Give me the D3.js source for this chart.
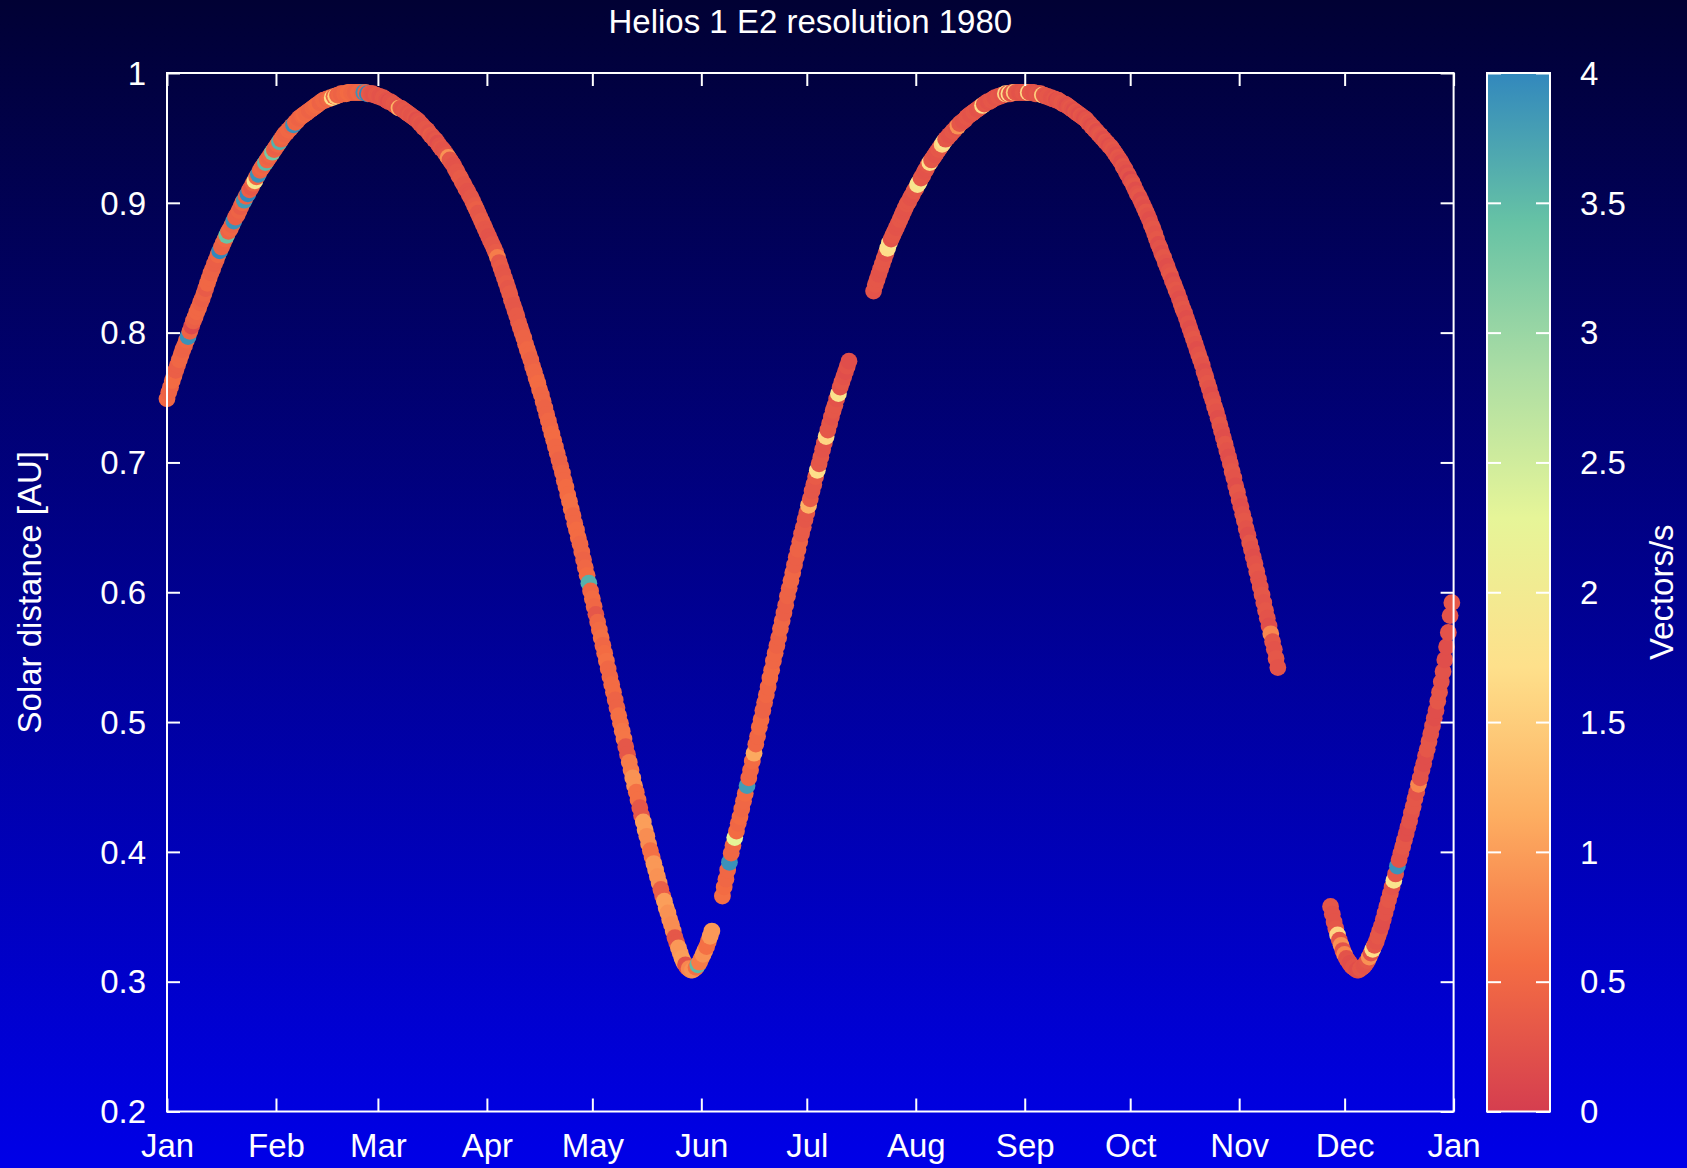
<!DOCTYPE html>
<html>
<head>
<meta charset="utf-8">
<script src="https://cdn.jsdelivr.net/npm/d3@7"></script>
<style>
html, body { margin: 0; padding: 0; background: #000; }
svg { display: block; }
text { font-family: "Liberation Sans", Arial, Helvetica, sans-serif; fill: #fff; }
</style>
</head>
<body>
<svg id="chart" width="1687" height="1168"></svg>
<script>
// ---------------- data ----------------
const chartTitle = "Helios 1 E2 resolution 1980";
const yAxisTitle = "Solar distance [AU]";
const colorbarTitle = "Vectors/s";
const monthLabels = ["Jan","Feb","Mar","Apr","May","Jun","Jul","Aug","Sep","Oct","Nov","Dec","Jan"];
const yTicks = [0.2, 0.3, 0.4, 0.5, 0.6, 0.7, 0.8, 0.9, 1];
const yTickLabels = ["0.2","0.3","0.4","0.5","0.6","0.7","0.8","0.9","1"];
const cbTicks = [0, 0.5, 1, 1.5, 2, 2.5, 3, 3.5, 4];
const cbTickLabels = ["0","0.5","1","1.5","2","2.5","3","3.5","4"];
const paletteColors = ["#D53E4F","#F46D43","#FDAE61","#FEE08B","#E6F598","#ABDDA4","#66C2A5","#3288BD"];

// samples every 12 hours; each segment starts at 00:00 of the given day of year (1980)
const sampleStepHours = 12;

const seg1StartDay = 1;
const seg1Distance = [
0.749,0.754,0.758,0.763,0.767,0.771,0.775,0.779,0.783,0.787,0.790,0.794,0.797,0.801,0.805,0.809,0.812,0.816,0.819,0.823,
0.826,0.830,0.834,0.838,0.842,0.846,0.849,0.853,0.856,0.860,0.863,0.866,0.869,0.872,0.875,0.878,0.880,0.883,0.886,0.889,
0.891,0.894,0.897,0.900,0.902,0.905,0.907,0.910,0.912,0.915,0.917,0.920,0.922,0.925,0.927,0.929,0.931,0.933,0.935,0.937,
0.939,0.941,0.943,0.945,0.947,0.949,0.951,0.953,0.954,0.956,0.957,0.959,0.960,0.962,0.963,0.965,0.966,0.967,0.968,0.969,
0.970,0.971,0.972,0.973,0.974,0.975,0.976,0.977,0.978,0.979,0.979,0.980,0.980,0.981,0.981,0.982,0.982,0.983,0.983,0.984,
0.984,0.984,0.984,0.985,0.985,0.985,0.985,0.985,0.985,0.985,0.985,0.985,0.985,0.985,0.984,0.984,0.984,0.984,0.983,0.983,
0.982,0.982,0.981,0.981,0.980,0.979,0.978,0.978,0.977,0.976,0.975,0.974,0.973,0.973,0.972,0.971,0.970,0.969,0.968,0.967,
0.966,0.965,0.964,0.963,0.961,0.960,0.958,0.957,0.956,0.954,0.952,0.951,0.949,0.948,0.946,0.944,0.942,0.941,0.939,0.937,
0.935,0.933,0.931,0.929,0.926,0.924,0.921,0.919,0.916,0.914,0.911,0.909,0.906,0.904,0.901,0.898,0.895,0.892,0.889,0.886,
0.883,0.880,0.877,0.874,0.871,0.868,0.865,0.862,0.858,0.854,0.850,0.846,0.842,0.838,0.834,0.830,0.825,0.821,0.817,0.813,
0.808,0.804,0.800,0.796,0.791,0.787,0.783,0.779,0.774,0.770,0.765,0.761,0.756,0.752,0.747,0.742,0.737,0.732,0.727,0.722,
0.717,0.712,0.707,0.702,0.697,0.692,0.686,0.681,0.675,0.670,0.664,0.659,0.653,0.648,0.642,0.637,0.631,0.625,0.619,0.613,
0.607,0.601,0.595,0.589,0.583,0.577,0.571,0.565,0.559,0.553,0.547,0.541,0.535,0.529,0.523,0.517,0.511,0.505,0.499,0.493,
0.487,0.481,0.475,0.469,0.463,0.457,0.451,0.446,0.440,0.434,0.428,0.423,0.417,0.412,0.406,0.401,0.396,0.391,0.386,0.381,
0.376,0.371,0.366,0.362,0.357,0.353,0.348,0.344,0.339,0.334,0.330,0.326,0.322,0.318,0.315,0.313,0.311,0.310,0.309,0.309,
0.310,0.311,0.313,0.315,0.318,0.321,0.324,0.327,0.331,0.335,0.339];
const seg1Vectors = [
0.5,0.45,0.45,0.55,0.55,0.4,0.4,0.5,0.5,0.45,0.45,0.5,3.9,0.45,0.15,0.4,0.45,0.5,0.5,0.45,
0.4,0.45,0.35,0.5,0.5,0.45,0.45,0.4,0.4,0.5,4.0,0.45,0.45,0.5,3.4,0.45,0.5,0.45,3.9,0.4,
0.4,0.45,0.35,0.5,3.8,0.45,4.0,0.4,0.3,0.45,1.9,0.5,3.9,0.45,0.5,0.45,3.5,0.5,0.45,0.5,
3.3,0.45,0.4,0.5,3.6,0.45,0.5,0.45,0.45,0.5,0.5,0.45,3.9,0.5,0.5,0.45,0.45,0.5,0.55,0.5,
0.5,0.45,0.45,0.5,0.5,0.55,0.55,0.45,0.45,0.5,0.5,0.45,0.5,0.55,1.7,0.5,1.5,0.45,0.5,0.45,
0.45,0.5,0.5,0.55,0.55,0.5,0.5,0.45,0.45,0.5,0.5,0.45,3.9,0.45,4.0,0.35,0.3,0.25,0.25,0.3,
0.3,0.25,0.25,0.3,0.3,0.25,0.2,0.25,0.25,0.3,0.3,0.25,1.2,0.3,0.25,0.3,0.3,0.25,0.3,0.25,
0.25,0.3,0.2,0.25,0.3,0.25,0.25,0.3,0.3,0.25,0.35,0.3,0.25,0.3,0.2,0.25,0.3,0.25,0.25,0.3,
0.9,0.3,0.3,0.25,0.25,0.3,0.3,0.35,0.35,0.3,0.3,0.25,0.25,0.3,0.3,0.35,0.4,0.3,0.3,0.35,
0.35,0.3,0.3,0.25,0.25,0.3,0.3,0.35,0.7,0.3,0.35,0.3,0.3,0.35,0.3,0.35,0.35,0.3,0.3,0.35,
0.35,0.4,0.4,0.45,0.45,0.5,0.5,0.45,0.45,0.5,0.5,0.55,0.55,0.5,0.5,0.45,0.45,0.5,0.5,0.55,
0.55,0.5,0.5,0.45,0.45,0.5,0.5,0.55,0.55,0.6,0.6,0.5,0.5,0.55,0.55,0.5,0.5,0.45,0.5,0.55,
3.6,0.5,0.55,0.5,0.3,0.5,0.55,0.6,0.5,0.55,0.6,0.5,0.5,0.55,0.55,0.45,0.45,0.6,0.6,0.65,
0.65,0.3,0.3,0.7,0.7,0.9,0.9,0.6,0.6,0.3,0.3,1.0,1.0,0.85,0.85,0.6,0.6,0.95,0.95,0.9,
0.9,0.4,0.4,1.0,1.0,0.9,0.9,0.85,0.85,0.3,0.3,0.95,0.95,1.0,1.0,0.25,0.25,0.8,0.8,0.9,
0.9,0.6,3.5,0.7,0.7,0.9,0.9,0.6,0.6,0.95,0.95];

const seg2StartDay = 159;
const seg2Distance = [
0.366,0.373,0.379,0.386,0.392,0.399,0.405,0.411,0.416,0.422,0.427,0.433,0.439,0.445,0.451,0.457,0.463,0.470,0.476,0.483,
0.489,0.496,0.502,0.509,0.515,0.521,0.527,0.534,0.540,0.547,0.553,0.559,0.565,0.572,0.578,0.584,0.590,0.597,0.603,0.609,
0.615,0.621,0.627,0.633,0.639,0.645,0.650,0.656,0.661,0.667,0.672,0.678,0.683,0.689,0.694,0.699,0.704,0.710,0.715,0.720,
0.725,0.730,0.735,0.740,0.744,0.749,0.753,0.758,0.762,0.766,0.770,0.774,0.778];
const seg2Vectors = [
0.6,0.55,0.5,0.5,3.9,0.5,0.5,2.3,0.55,0.5,0.55,0.5,0.5,0.55,3.8,0.5,0.5,0.55,1.1,0.5,
0.5,0.55,0.55,0.45,0.45,0.5,0.5,0.55,0.55,0.5,0.5,0.45,0.45,0.5,0.5,0.4,0.4,0.45,0.45,0.5,
0.5,0.4,0.4,0.45,0.45,0.35,0.35,0.3,0.3,1.2,0.35,0.3,0.3,0.35,1.7,0.3,0.3,0.25,0.25,1.6,
0.3,0.3,0.25,0.3,0.3,0.25,1.8,0.25,0.3,0.25,0.2,0.25,0.2];

const seg3StartDay = 202;
const seg3Distance = [
0.832,0.837,0.841,0.845,0.849,0.853,0.857,0.861,0.865,0.869,0.872,0.875,0.878,0.881,0.884,0.887,0.890,0.893,0.896,0.899,
0.901,0.904,0.906,0.909,0.911,0.914,0.916,0.919,0.921,0.924,0.926,0.929,0.931,0.933,0.935,0.937,0.939,0.941,0.943,0.945,
0.947,0.949,0.950,0.952,0.953,0.955,0.956,0.958,0.959,0.961,0.962,0.963,0.964,0.966,0.967,0.968,0.969,0.970,0.971,0.972,
0.973,0.974,0.975,0.976,0.977,0.978,0.978,0.979,0.980,0.981,0.981,0.982,0.982,0.983,0.983,0.984,0.984,0.984,0.984,0.985,
0.985,0.985,0.985,0.985,0.985,0.985,0.985,0.985,0.985,0.985,0.985,0.985,0.984,0.984,0.984,0.984,0.983,0.983,0.982,0.982,
0.981,0.981,0.980,0.980,0.979,0.979,0.978,0.977,0.976,0.976,0.975,0.974,0.973,0.972,0.971,0.970,0.969,0.968,0.967,0.966,
0.965,0.964,0.962,0.961,0.959,0.958,0.956,0.955,0.953,0.952,0.950,0.949,0.947,0.946,0.944,0.943,0.941,0.939,0.937,0.935,
0.933,0.931,0.928,0.926,0.923,0.921,0.918,0.916,0.913,0.910,0.907,0.905,0.902,0.899,0.896,0.893,0.890,0.887,0.883,0.880,
0.876,0.872,0.868,0.865,0.861,0.858,0.854,0.851,0.847,0.844,0.840,0.837,0.833,0.830,0.826,0.822,0.818,0.815,0.811,0.807,
0.803,0.799,0.795,0.791,0.787,0.783,0.779,0.775,0.770,0.766,0.761,0.757,0.752,0.748,0.743,0.739,0.734,0.729,0.724,0.719,
0.714,0.709,0.704,0.699,0.693,0.688,0.682,0.677,0.671,0.666,0.660,0.655,0.649,0.644,0.638,0.633,0.627,0.622,0.616,0.610,
0.604,0.598,0.592,0.586,0.580,0.574,0.568,0.562,0.556,0.549,0.542];
const seg3Vectors = [
0.25,0.3,0.3,0.25,0.25,0.3,0.3,0.25,1.7,1.8,0.25,0.3,0.3,0.25,0.25,0.3,0.3,0.25,0.25,0.3,
0.3,0.25,0.25,0.3,0.3,1.8,1.9,0.3,0.3,0.25,0.25,0.3,1.7,0.3,0.3,0.25,0.25,0.3,0.3,1.6,
1.8,0.3,0.3,0.25,0.25,0.3,0.3,0.25,0.9,0.3,0.3,0.25,0.25,0.3,0.3,0.25,0.25,0.3,0.3,0.25,
0.25,0.3,1.7,0.3,0.3,0.25,0.25,0.3,0.3,0.25,0.25,0.3,0.3,0.25,0.25,1.6,0.3,1.7,0.3,0.25,
1.5,0.3,0.3,0.25,0.25,0.3,0.3,0.25,1.6,0.3,0.3,0.25,0.25,0.3,0.3,0.25,1.5,0.3,0.25,0.3,
0.3,0.25,0.25,0.3,0.2,0.25,0.25,0.3,0.3,0.25,0.2,0.25,0.3,0.25,0.2,0.3,0.25,0.2,0.3,0.25,
0.2,0.25,0.3,0.25,0.2,0.25,0.3,0.2,0.25,0.3,0.25,0.2,0.3,0.25,0.2,0.25,0.3,0.25,0.2,0.3,
0.25,0.2,0.3,0.25,0.2,0.25,0.15,0.25,0.3,0.2,0.25,0.3,0.2,0.25,0.2,0.3,0.25,0.2,0.25,0.3,
0.25,0.3,0.2,0.25,0.2,0.3,0.25,0.2,0.25,0.3,0.2,0.25,0.3,0.25,0.2,0.25,0.3,0.25,0.2,0.25,
0.2,0.25,0.3,0.25,0.2,0.25,0.3,0.25,0.2,0.25,0.3,0.25,0.2,0.25,0.3,0.25,0.2,0.3,0.25,0.2,
0.3,0.25,0.2,0.25,0.3,0.25,0.2,0.3,0.25,0.2,0.25,0.3,0.25,0.2,0.3,0.25,0.2,0.25,0.3,0.25,
0.25,0.3,0.25,0.3,0.25,0.2,0.8,0.3,0.25,0.3,0.25];

const seg4StartDay = 332;
const seg4Distance = [
0.358,0.352,0.346,0.341,0.336,0.332,0.328,0.324,0.321,0.318,0.316,0.314,0.312,0.311,0.310,0.309,0.309,0.310,0.311,0.312,
0.314,0.316,0.319,0.322,0.325,0.328,0.331,0.335,0.339,0.343,0.348,0.353,0.358,0.363,0.368,0.373,0.378,0.383,0.389,0.394,
0.399,0.404,0.409,0.414,0.419,0.424,0.430,0.435,0.441,0.446,0.452,0.457,0.463,0.468,0.474,0.479,0.485,0.491,0.497,0.503,
0.509,0.516,0.523,0.531,0.539,0.548,0.558,0.569,0.582,0.592];
const seg4Vectors = [
0.3,0.25,0.25,0.3,1.6,0.3,0.9,0.25,0.8,0.25,0.25,0.2,0.2,0.25,0.25,0.2,0.2,0.3,0.3,0.25,
0.25,0.3,0.9,0.25,1.7,0.3,0.25,0.3,0.3,0.2,0.2,0.25,0.25,0.3,0.3,0.25,1.8,0.3,3.9,0.25,
0.25,0.3,0.3,0.2,0.2,0.25,0.25,0.3,0.3,0.25,0.8,0.25,0.25,0.2,0.2,0.3,0.3,0.25,0.25,0.2,
0.2,0.3,0.3,0.25,0.25,0.2,0.2,0.25,0.25,0.3];

// ---------------- layout ----------------
const W = 1687, H = 1168;
const plot = { left: 167, right: 1453.6, top: 73, bottom: 1111.5 };
const cbar = { left: 1487, right: 1550 };
const fontSize = 33;
const fontFamily = '"Liberation Sans", Arial, Helvetica, sans-serif';
const pointRadius = 8.4;

const svg = d3.select("#chart");
const defs = svg.append("defs");

const bg = defs.append("linearGradient").attr("id", "bg")
  .attr("x1", 0).attr("y1", 0).attr("x2", 0).attr("y2", 1);
bg.append("stop").attr("offset", "0%").attr("stop-color", "#010134");
bg.append("stop").attr("offset", "100%").attr("stop-color", "#0000e8");
svg.append("rect").attr("width", W).attr("height", H).attr("fill", "url(#bg)");

// scales
const x = d3.scaleTime()
  .domain([new Date(1980, 0, 1), new Date(1981, 0, 1)])
  .range([plot.left, plot.right]);
const y = d3.scaleLinear().domain([0.2, 1]).range([plot.bottom, plot.top]);
const color = d3.scaleLinear()
  .domain(paletteColors.map((c, i) => i * 4 / (paletteColors.length - 1)))
  .range(paletteColors)
  .interpolate(d3.interpolateRgb)
  .clamp(true);

function buildSegment(startDay, dist, vec) {
  return dist.map((d, i) => ({
    date: new Date(1980, 0, startDay, i * sampleStepHours),
    r: d, v: vec[i]
  }));
}
const points = [].concat(
  buildSegment(seg1StartDay, seg1Distance, seg1Vectors),
  buildSegment(seg2StartDay, seg2Distance, seg2Vectors),
  buildSegment(seg3StartDay, seg3Distance, seg3Vectors),
  buildSegment(seg4StartDay, seg4Distance, seg4Vectors)
);

svg.append("g").selectAll("circle").data(points).join("circle")
  .attr("cx", d => x(d.date))
  .attr("cy", d => y(d.r))
  .attr("r", pointRadius)
  .attr("fill", d => color(d.v));

// axes
const monthDates = d3.timeMonth.range(new Date(1980, 0, 1), new Date(1981, 0, 2));
const fmtMonth = (d, i) => monthLabels[i];
const fmtY = (d, i) => yTickLabels[i];

function styleAxis(g) {
  g.select(".domain").remove();
  g.selectAll(".tick line").attr("stroke", "#fff").attr("stroke-width", 2);
  g.selectAll(".tick text").attr("fill", "#fff")
    .style("font-size", fontSize + "px")
    .style("font-family", fontFamily);
}

svg.append("g").attr("transform", `translate(0,${plot.bottom})`)
  .call(d3.axisBottom(x).tickValues(monthDates).tickFormat(fmtMonth).tickSize(-13).tickPadding(22))
  .call(styleAxis);
svg.append("g").attr("transform", `translate(0,${plot.top})`)
  .call(d3.axisTop(x).tickValues(monthDates).tickFormat("").tickSize(-13))
  .call(styleAxis);
svg.append("g").attr("transform", `translate(${plot.left},0)`)
  .call(d3.axisLeft(y).tickValues(yTicks).tickFormat(fmtY).tickSize(-13).tickPadding(21))
  .call(styleAxis)
  .selectAll(".tick text").attr("dy", "0.34em");
svg.append("g").attr("transform", `translate(${plot.right},0)`)
  .call(d3.axisRight(y).tickValues(yTicks).tickFormat("").tickSize(-13))
  .call(styleAxis);

svg.append("rect")
  .attr("x", plot.left).attr("y", plot.top)
  .attr("width", plot.right - plot.left).attr("height", plot.bottom - plot.top)
  .attr("fill", "none").attr("stroke", "#fff").attr("stroke-width", 2);

// colorbar
const cy = d3.scaleLinear().domain([0, 4]).range([plot.bottom, plot.top]);
const cg = defs.append("linearGradient").attr("id", "cbgrad")
  .attr("x1", 0).attr("y1", 1).attr("x2", 0).attr("y2", 0);
paletteColors.forEach((c, i) => {
  cg.append("stop").attr("offset", (i / (paletteColors.length - 1) * 100) + "%").attr("stop-color", c);
});
svg.append("rect")
  .attr("x", cbar.left).attr("y", plot.top)
  .attr("width", cbar.right - cbar.left).attr("height", plot.bottom - plot.top)
  .attr("fill", "url(#cbgrad)");

svg.append("g").attr("transform", `translate(${cbar.right},0)`)
  .call(d3.axisRight(cy).tickValues(cbTicks).tickFormat((d, i) => cbTickLabels[i]).tickSize(-14).tickPadding(30))
  .call(styleAxis)
  .selectAll(".tick text").attr("dy", "0.34em");
svg.append("g").attr("transform", `translate(${cbar.left},0)`)
  .call(d3.axisLeft(cy).tickValues(cbTicks).tickFormat("").tickSize(-14))
  .call(styleAxis);
svg.append("rect")
  .attr("x", cbar.left).attr("y", plot.top)
  .attr("width", cbar.right - cbar.left).attr("height", plot.bottom - plot.top)
  .attr("fill", "none").attr("stroke", "#fff").attr("stroke-width", 2);

// titles
svg.append("text")
  .attr("x", (plot.left + plot.right) / 2).attr("y", 33)
  .attr("text-anchor", "middle")
  .style("font-size", fontSize + "px")
  .text(chartTitle);

svg.append("text")
  .attr("transform", `translate(41,${(plot.top + plot.bottom) / 2}) rotate(-90)`)
  .attr("text-anchor", "middle")
  .style("font-size", fontSize + "px")
  .text(yAxisTitle);

svg.append("text")
  .attr("transform", `translate(1673,${(plot.top + plot.bottom) / 2}) rotate(-90)`)
  .attr("text-anchor", "middle")
  .style("font-size", fontSize + "px")
  .text(colorbarTitle);
</script>
</body>
</html>
